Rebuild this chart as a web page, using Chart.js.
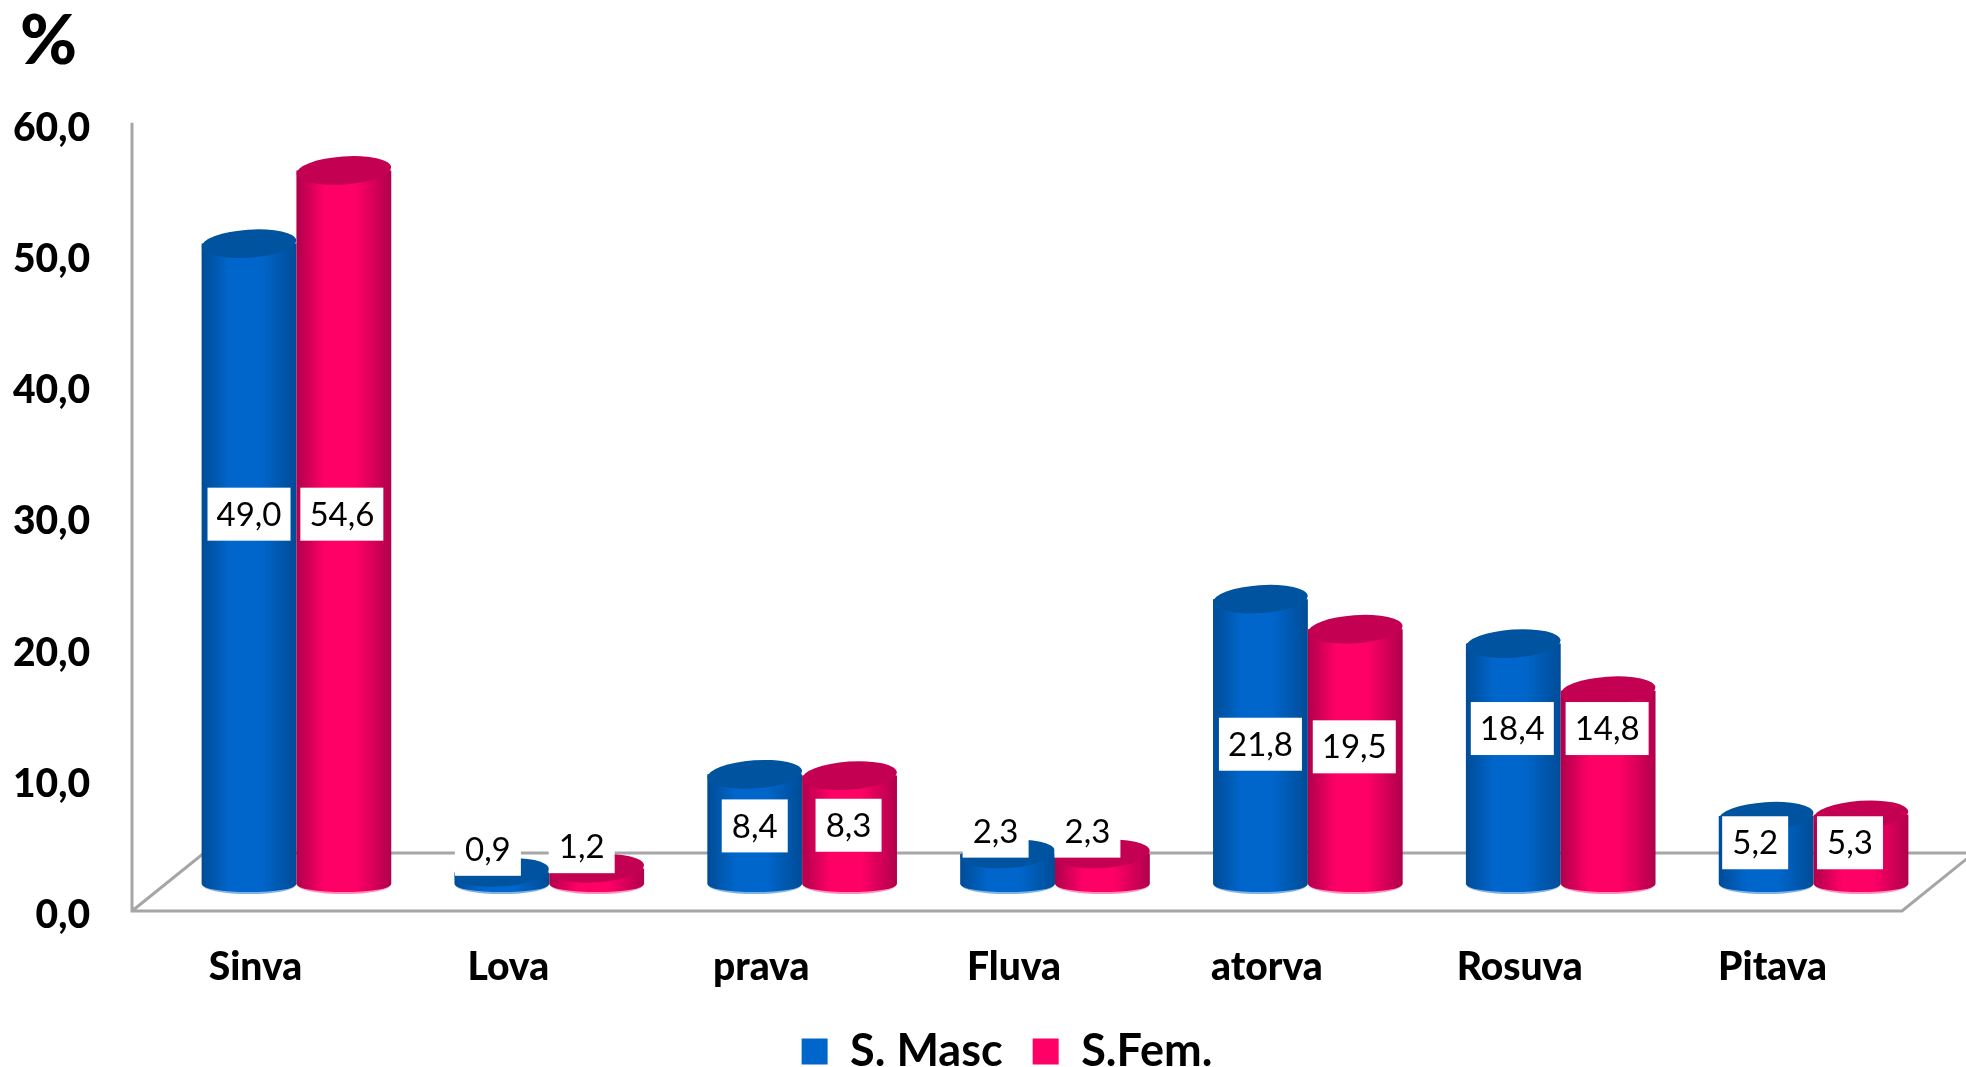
<!DOCTYPE html>
<html>
<head>
<meta charset="utf-8">
<script src="https://cdn.jsdelivr.net/npm/chart.js@4"></script>
<style>html,body{margin:0;padding:0;background:#fff}canvas{display:block}</style>
</head>
<body>
<canvas id="c" width="1966" height="1067"></canvas>
<script>
const categories = ["Sinva","Lova","prava","Fluva","atorva","Rosuva","Pitava"];
const masc = [49.0,0.9,8.4,2.3,21.8,18.4,5.2];
const fem  = [54.6,1.2,8.3,2.3,19.5,14.8,5.3];
// where each hand-placed value label sits, read on the bar scale
const mascLabelAt = [28.3,2.66,4.45,4.05,10.7,11.9,3.16];
const femLabelAt  = [28.3,2.86,4.5,4.05,10.5,11.9,3.16];
const mascLabelNudge = [0,-14,0,-12,0,-1,-11];
const femLabelNudge  = [-2,-15,-1,-15,-1,-1,-11];
const yTicks = [0,10,20,30,40,50,60];

const DEPTH_X = 41, FLOOR_DX = 72, FLOOR_DY = -58, LID_RY = 14, FOOT_RY = 9;
const GREY = '#a6a6a6';
const fmt = v => v.toFixed(1).replace('.', ',');
const palette = [
  {mid:'#0066cc', edge:'#004c96', top:'#00539f', rim:'#7fb2e5'},
  {mid:'#ff0066', edge:'#b0004c', top:'#c30052', rim:'#ff8fb8'}
];

const scene = {
  id:'scene',
  afterLayout(chart){
    const l = chart.legend;
    l.left += 24; l.right += 24; l.top += 17; l.bottom += 17;
    chart.titleBlock.left = 20;
    // let the category labels extend past their fitted box, slightly left of the slots
    const x = chart.scales.x;
    x.bottom += 70; x.left -= 3; x.right -= 3; x.configure();
    // tick text sits a little below the wall's own ticks
    const y = chart.scales.y;
    y.top += 4; y.bottom += 4; y.configure();
  },
  beforeDatasetsDraw(chart){
    const {ctx, chartArea:a} = chart;
    ctx.save();
    ctx.strokeStyle = GREY; ctx.lineWidth = 3;
    const by = a.bottom + FLOOR_DY;
    ctx.beginPath();
    ctx.moveTo(a.left, a.top - 2); ctx.lineTo(a.left, a.bottom);
    ctx.lineTo(a.right, a.bottom); ctx.lineTo(a.right + FLOOR_DX, by);
    ctx.moveTo(a.left, a.bottom); ctx.lineTo(a.left + FLOOR_DX, by);
    ctx.lineTo(chart.width, by);
    ctx.stroke();
    ctx.restore();
  },
  afterDatasetsDraw(chart){
    const ctx = chart.ctx;
    const n = categories.length;
    for (let i = 0; i < n; i++) {
      chart.data.datasets.forEach((ds, d) => {
        const el = chart.getDatasetMeta(d).data[i];
        const p = palette[d];
        const x = el.x + DEPTH_X, w = el.width, rx = w/2;
        const top = el.y, base = el.base;
        const g = ctx.createLinearGradient(x-rx,0,x+rx,0);
        g.addColorStop(0,p.edge); g.addColorStop(0.3,p.mid);
        g.addColorStop(0.62,p.mid); g.addColorStop(1,p.edge);
        ctx.save();
        // light rim under the cylinder
        ctx.fillStyle = p.rim;
        ctx.beginPath(); ctx.ellipse(x,base+1,rx-1,FOOT_RY,0,0,Math.PI*2); ctx.fill();
        // body
        ctx.fillStyle = g;
        ctx.beginPath();
        ctx.moveTo(x-rx,top);
        ctx.lineTo(x+rx,top);
        ctx.lineTo(x+rx,base);
        ctx.ellipse(x,base,rx,FOOT_RY-1,0,0,Math.PI);
        ctx.closePath();
        ctx.fill();
        // lid
        ctx.fillStyle = p.top;
        ctx.beginPath(); ctx.ellipse(x,top,rx,LID_RY,-0.07,0,Math.PI*2); ctx.fill();
        ctx.restore();
      });
    }
    // value labels
    const yb = chart.scales.yBars;
    const at = [mascLabelAt, femLabelAt], nudge = [mascLabelNudge, femLabelNudge];
    ctx.save();
    ctx.font = '33px Lato';
    ctx.textAlign = 'center'; ctx.textBaseline = 'middle';
    chart.data.datasets.forEach((ds, d) => {
      chart.getDatasetMeta(d).data.forEach((el, i) => {
        const s = fmt(ds.data[i]);
        const cx = el.x + DEPTH_X + nudge[d][i];
        const cy = yb.getPixelForValue(at[d][i]);
        const bw = s.length > 3 ? 83 : 66, bh = 53;
        ctx.fillStyle = '#fff';
        ctx.fillRect(cx-bw/2, cy-bh/2, bw, bh);
        ctx.fillStyle = '#000';
        ctx.fillText(s, cx, cy+1);
      });
    });
    ctx.restore();
  }
};

new Chart(document.getElementById('c'), {
  type:'bar',
  data:{
    labels:categories,
    datasets:[
      {label:'S. Masc', data:masc, yAxisID:'yBars', backgroundColor:'rgba(0,0,0,0)', barPercentage:1, categoryPercentage:0.75},
      {label:'S.Fem.',  data:fem,  yAxisID:'yBars', backgroundColor:'rgba(0,0,0,0)', barPercentage:1, categoryPercentage:0.75}
    ]
  },
  plugins:[scene],
  options:{
    responsive:false,
    animation:false,
    layout:{padding:0},
    plugins:{
      tooltip:{enabled:false},
      title:{display:true,text:'%',align:'start',color:'#000',
        font:{family:'Lato',size:69,weight:'900',lineHeight:1.2},
        padding:{top:0,bottom:42}},
      legend:{position:'bottom',align:'center',
        labels:{color:'#000',boxWidth:26,boxHeight:26,padding:30,
          font:{family:'Lato',size:45,weight:'bold'},
          generateLabels(chart){
            return chart.data.datasets.map((ds,i)=>({
              text:ds.label, fillStyle:palette[i].mid, strokeStyle:palette[i].mid,
              lineWidth:0, hidden:false, datasetIndex:i, fontColor:'#000'
            }));
          }}}
    },
    scales:{
      x:{
        grid:{display:false,drawTicks:false},
        border:{display:false},
        ticks:{color:'#000',padding:33,maxRotation:0,font:{family:'Lato',size:39,weight:'900'}},
        afterFit(s){ s.height = 71; }
      },
      y:{
        position:'left',min:0,max:60,
        grid:{display:false,drawTicks:false},
        border:{display:false},
        afterBuildTicks(s){ s.ticks = yTicks.map(v=>({value:v})); },
        ticks:{color:'#000',padding:42,callback:v=>fmt(v),font:{family:'Lato',size:39,weight:'900'}},
        afterFit(s){ s.width = 132; }
      },
      yBars:{
        position:'right',min:-2.06,max:58.09,
        grid:{display:false,drawTicks:false},
        border:{display:false},
        ticks:{display:false},
        afterFit(s){ s.width = 64; }
      }
    }
  }
});
</script>
</body>
</html>
